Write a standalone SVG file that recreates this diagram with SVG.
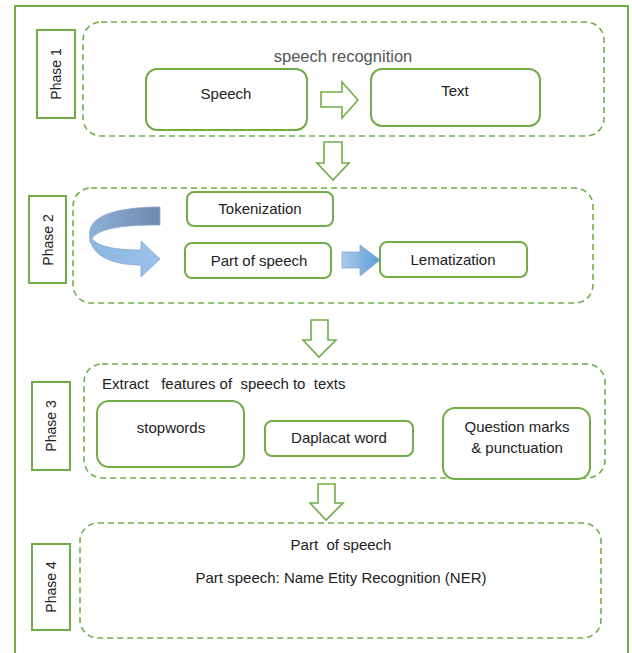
<svg xmlns="http://www.w3.org/2000/svg" width="632" height="653" viewBox="0 0 632 653">
<defs>
<style>
.frame{fill:none;stroke:#70AD47;stroke-width:2}
.box{fill:#fff;stroke:#70AD47;stroke-width:2}
.dash{fill:none;stroke:#70AD47;stroke-width:1.6;stroke-dasharray:6 4}
.harrow{fill:#fff;stroke:#70AD47;stroke-width:1.6;stroke-linejoin:miter}
.t{font-family:"Liberation Sans",Arial,sans-serif;font-size:15px;fill:#222;text-anchor:middle}
.lbl{font-family:"Liberation Sans",Arial,sans-serif;font-size:14px;fill:#222;text-anchor:middle}
</style>
<linearGradient id="blueA" x1="0" y1="0" x2="1" y2="0">
<stop offset="0" stop-color="#A9CBEB"/><stop offset="1" stop-color="#5E9BD6"/>
</linearGradient>
<linearGradient id="blueFront" x1="0" y1="0" x2="1" y2="0">
<stop offset="0" stop-color="#8DB6E2"/><stop offset="1" stop-color="#9CC2EA"/>
</linearGradient>
<linearGradient id="blueBack" x1="0" y1="0" x2="1" y2="0">
<stop offset="0" stop-color="#8FB0D6"/><stop offset="1" stop-color="#6D89AE"/>
</linearGradient>
</defs>

<rect x="15" y="6" width="613" height="660" class="frame"/>

<g id="phase1">
<rect x="37" y="30" width="38" height="88" class="frame"/>
<text class="lbl" transform="translate(61,74) rotate(-90)">Phase 1</text>
<rect x="83" y="22" width="521" height="114" rx="18" class="dash"/>
<text x="343" y="62" style="font-family:'Liberation Sans',Arial,sans-serif;font-size:16.5px;fill:#555;text-anchor:middle">speech recognition</text>
</g>
<g id="speech">
<rect x="146" y="69" width="161" height="61" rx="11" class="box"/>
<text x="226" y="99" class="t">Speech</text>
</g>
<g id="text">
<rect x="371" y="69" width="169" height="57" rx="11" class="box"/>
<text x="455" y="96" class="t">Text</text>
</g>

<g id="phase2">
<rect x="29" y="196" width="37" height="87" class="frame"/>
<text class="lbl" transform="translate(53,240) rotate(-90)">Phase 2</text>
<rect x="73" y="188" width="520" height="115" rx="18" class="dash"/>
</g>
<g id="tokenization">
<rect x="187" y="192" width="146" height="34" rx="7" class="box"/>
<text x="260" y="214" class="t">Tokenization</text>
</g>
<g id="pos">
<rect x="185" y="243" width="146" height="35" rx="7" class="box"/>
<text x="259" y="266" class="t">Part of speech</text>
</g>
<g id="lematization">
<rect x="380" y="242" width="147" height="35" rx="7" class="box"/>
<text x="453" y="265" class="t">Lematization</text>
</g>

<g id="phase3">
<rect x="32" y="382" width="38" height="88" class="frame"/>
<text class="lbl" transform="translate(56,426) rotate(-90)">Phase 3</text>
<rect x="84" y="364" width="521" height="114" rx="18" class="dash"/>
<text x="102" y="389" class="t" style="text-anchor:start" xml:space="preserve">Extract   features of  speech to  texts</text>
</g>
<g id="stopwords">
<rect x="97" y="401" width="147" height="66" rx="12" class="box"/>
<text x="171" y="433" class="t">stopwords</text>
</g>
<g id="duplicate">
<rect x="265" y="421" width="148" height="35" rx="7" class="box"/>
<text x="339" y="443" class="t">Daplacat word</text>
</g>
<g id="question">
<rect x="443" y="408" width="147" height="71" rx="12" class="box"/>
<text x="517" y="432" class="t">Question marks</text>
<text x="517" y="453" class="t">&amp; punctuation</text>
</g>

<g id="phase4">
<rect x="32" y="544" width="38" height="86" class="frame"/>
<text class="lbl" transform="translate(56,587) rotate(-90)">Phase 4</text>
<rect x="80" y="523" width="521" height="115" rx="18" class="dash"/>
<text x="341" y="550" class="t" xml:space="preserve">Part  of speech</text>
<text x="341" y="583" class="t">Part speech: Name Etity Recognition (NER)</text>
</g>

<g id="connectors">
<path d="M321,92 H342 V82 L358,100 L342,118 V107 H321 Z" class="harrow"/>
<path d="M324,142 H342 V163 H349 L333,180 L317,163 H324 Z" class="harrow"/>
<path d="M311,320 H328 V340 H336 L319,357 L303,340 H311 Z" class="harrow"/>
<path d="M318,484 H335 V503 H343 L326,520 L310,503 H318 Z" class="harrow"/>
<path d="M342,252 H360 V245 L380,260 L360,276 V268 H342 Z" fill="url(#blueA)" stroke="#7FA7D4" stroke-width="0.8"/>
<path d="M160,207 C122,207 92,214 90,231 L90,243 C93,228 122,225 160,225 Z" fill="url(#blueBack)" stroke="#8AAAD0" stroke-width="0.8"/>
<path d="M90,231 C89,244 94,250 100,255 C112,263 127,265 141,265 L141,277 L160,259 L141,241 L141,250 C120,250 97,248 91,237 Z" fill="url(#blueFront)" stroke="#7FA7D4" stroke-width="0.8"/>
</g>
</svg>
